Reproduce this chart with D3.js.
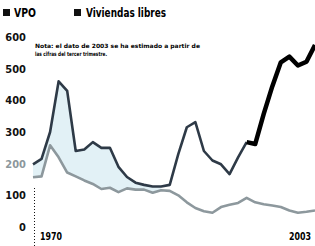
<!DOCTYPE html>
<html>
    <head>
        <meta charset="utf-8">
        <script src="https://d3js.org/d3.v7.min.js"></script>
        <style>
            body { margin: 0; background: #fff; }
            text { font-family: "Liberation Sans Narrow", "DejaVu Sans Condensed", sans-serif; font-weight: bold; }
        </style>
    </head>
    <body>
        <div id="chart"></div>
        <script>
            //  yearly data
            const years = d3.range(1970, 2004);
            const libres = [198, 215, 300, 460, 430, 240, 245, 268, 250, 250,
                            190, 158, 140, 133, 128, 128, 133, 230, 315, 331,
                            240, 210, 198, 167, 220, 268, 262, 357, 444, 520,
                            538, 510, 522, 575];
            const vpo = [157, 160, 258, 220, 172, 160, 147, 136, 120, 124,
                         110, 122, 118, 118, 108, 116, 114, 100, 78, 60,
                         50, 45, 63, 70, 76, 92, 78, 72, 68, 63,
                         52, 45, 48, 52];
            const yTicks = [0, 100, 200, 300, 400, 500, 600];
            const xLabels = [1970, 2003];
            const splitYear = 1995;   //  thick black line from here on
            const fillEnd = 1985;     //  shaded band stops here
            const legendItems = ["VPO", "Viviendas libres"];
            const note = ["Nota: el dato de 2003 se ha estimado a partir de",
                          "las cifras del tercer trimestre."];

            const width = 315;
            const height = 246;

            const data = years.map((y, i) => ({year: y, libres: libres[i], vpo: vpo[i]}));

            const x = d3.scaleLinear().domain([1970, 2003]).range([33, 315]);
            const y = d3.scaleLinear().domain([0, 600]).range([227, 37]);

            const svg = d3.select("#chart").append("svg")
                .attr("width", width)
                .attr("height", height);

            //  legend
            const legend = svg.append("g");
            legend.selectAll("rect")
                .data(legendItems)
                .join("rect")
                .attr("x", (d, i) => i ? 74 : 3)
                .attr("y", 9)
                .attr("width", 7)
                .attr("height", 7)
                .attr("fill", "#111");
            legend.selectAll("text")
                .data(legendItems)
                .join("text")
                .attr("x", (d, i) => i ? 86 : 14)
                .attr("y", 17)
                .attr("font-size", 12)
                .attr("textLength", (d, i) => i ? 80 : 22)
                .attr("lengthAdjust", "spacingAndGlyphs")
                .text(d => d);

            //  y labels
            svg.append("g").selectAll("text")
                .data(yTicks)
                .join("text")
                .attr("x", 26)
                .attr("y", d => y(d) + 4)
                .attr("text-anchor", "end")
                .attr("font-size", 11)
                .attr("fill", d => d === 200 ? "#8c979c" : "#111")
                .text(d => d);

            //  note
            svg.append("g").selectAll("text")
                .data(note)
                .join("text")
                .attr("x", 35)
                .attr("y", (d, i) => 48 + i * 8)
                .attr("font-size", 5.8)
                .attr("textLength", (d, i) => i ? 72 : 165)
                .attr("lengthAdjust", "spacingAndGlyphs")
                .text(d => d);

            //  band between the two series
            svg.append("path")
                .datum(data.filter(d => d.year <= fillEnd))
                .attr("fill", "#e2f1f6")
                .attr("d", d3.area()
                    .x(d => x(d.year))
                    .y0(d => y(d.vpo))
                    .y1(d => y(Math.max(d.libres, d.vpo))));

            //  dotted line at 1970
            svg.append("line")
                .attr("x1", 34.5).attr("x2", 34.5)
                .attr("y1", 188).attr("y2", height)
                .attr("stroke", "#111")
                .attr("stroke-width", 1)
                .attr("stroke-dasharray", "1,2");

            const line = key => d3.line().x(d => x(d.year)).y(d => y(d[key]));

            svg.append("path")
                .datum(data)
                .attr("fill", "none")
                .attr("stroke", "#8d989d")
                .attr("stroke-width", 2.6)
                .attr("stroke-linejoin", "round")
                .attr("d", line("vpo"));

            svg.append("path")
                .datum(data.filter(d => d.year <= splitYear))
                .attr("fill", "none")
                .attr("stroke", "#2e3a47")
                .attr("stroke-width", 2.6)
                .attr("stroke-linejoin", "round")
                .attr("d", line("libres"));

            svg.append("path")
                .datum(data.filter(d => d.year >= splitYear))
                .attr("fill", "none")
                .attr("stroke", "#000")
                .attr("stroke-width", 4.5)
                .attr("stroke-linejoin", "round")
                .attr("d", line("libres"));

            //  x labels
            svg.append("g").selectAll("text")
                .data(xLabels)
                .join("text")
                .attr("x", (d, i) => i ? 311 : 40)
                .attr("y", 240)
                .attr("text-anchor", (d, i) => i ? "end" : "start")
                .attr("font-size", 10.5)
                .attr("textLength", 22)
                .attr("lengthAdjust", "spacingAndGlyphs")
                .text(d => d);
        </script>
    </body>
</html>
